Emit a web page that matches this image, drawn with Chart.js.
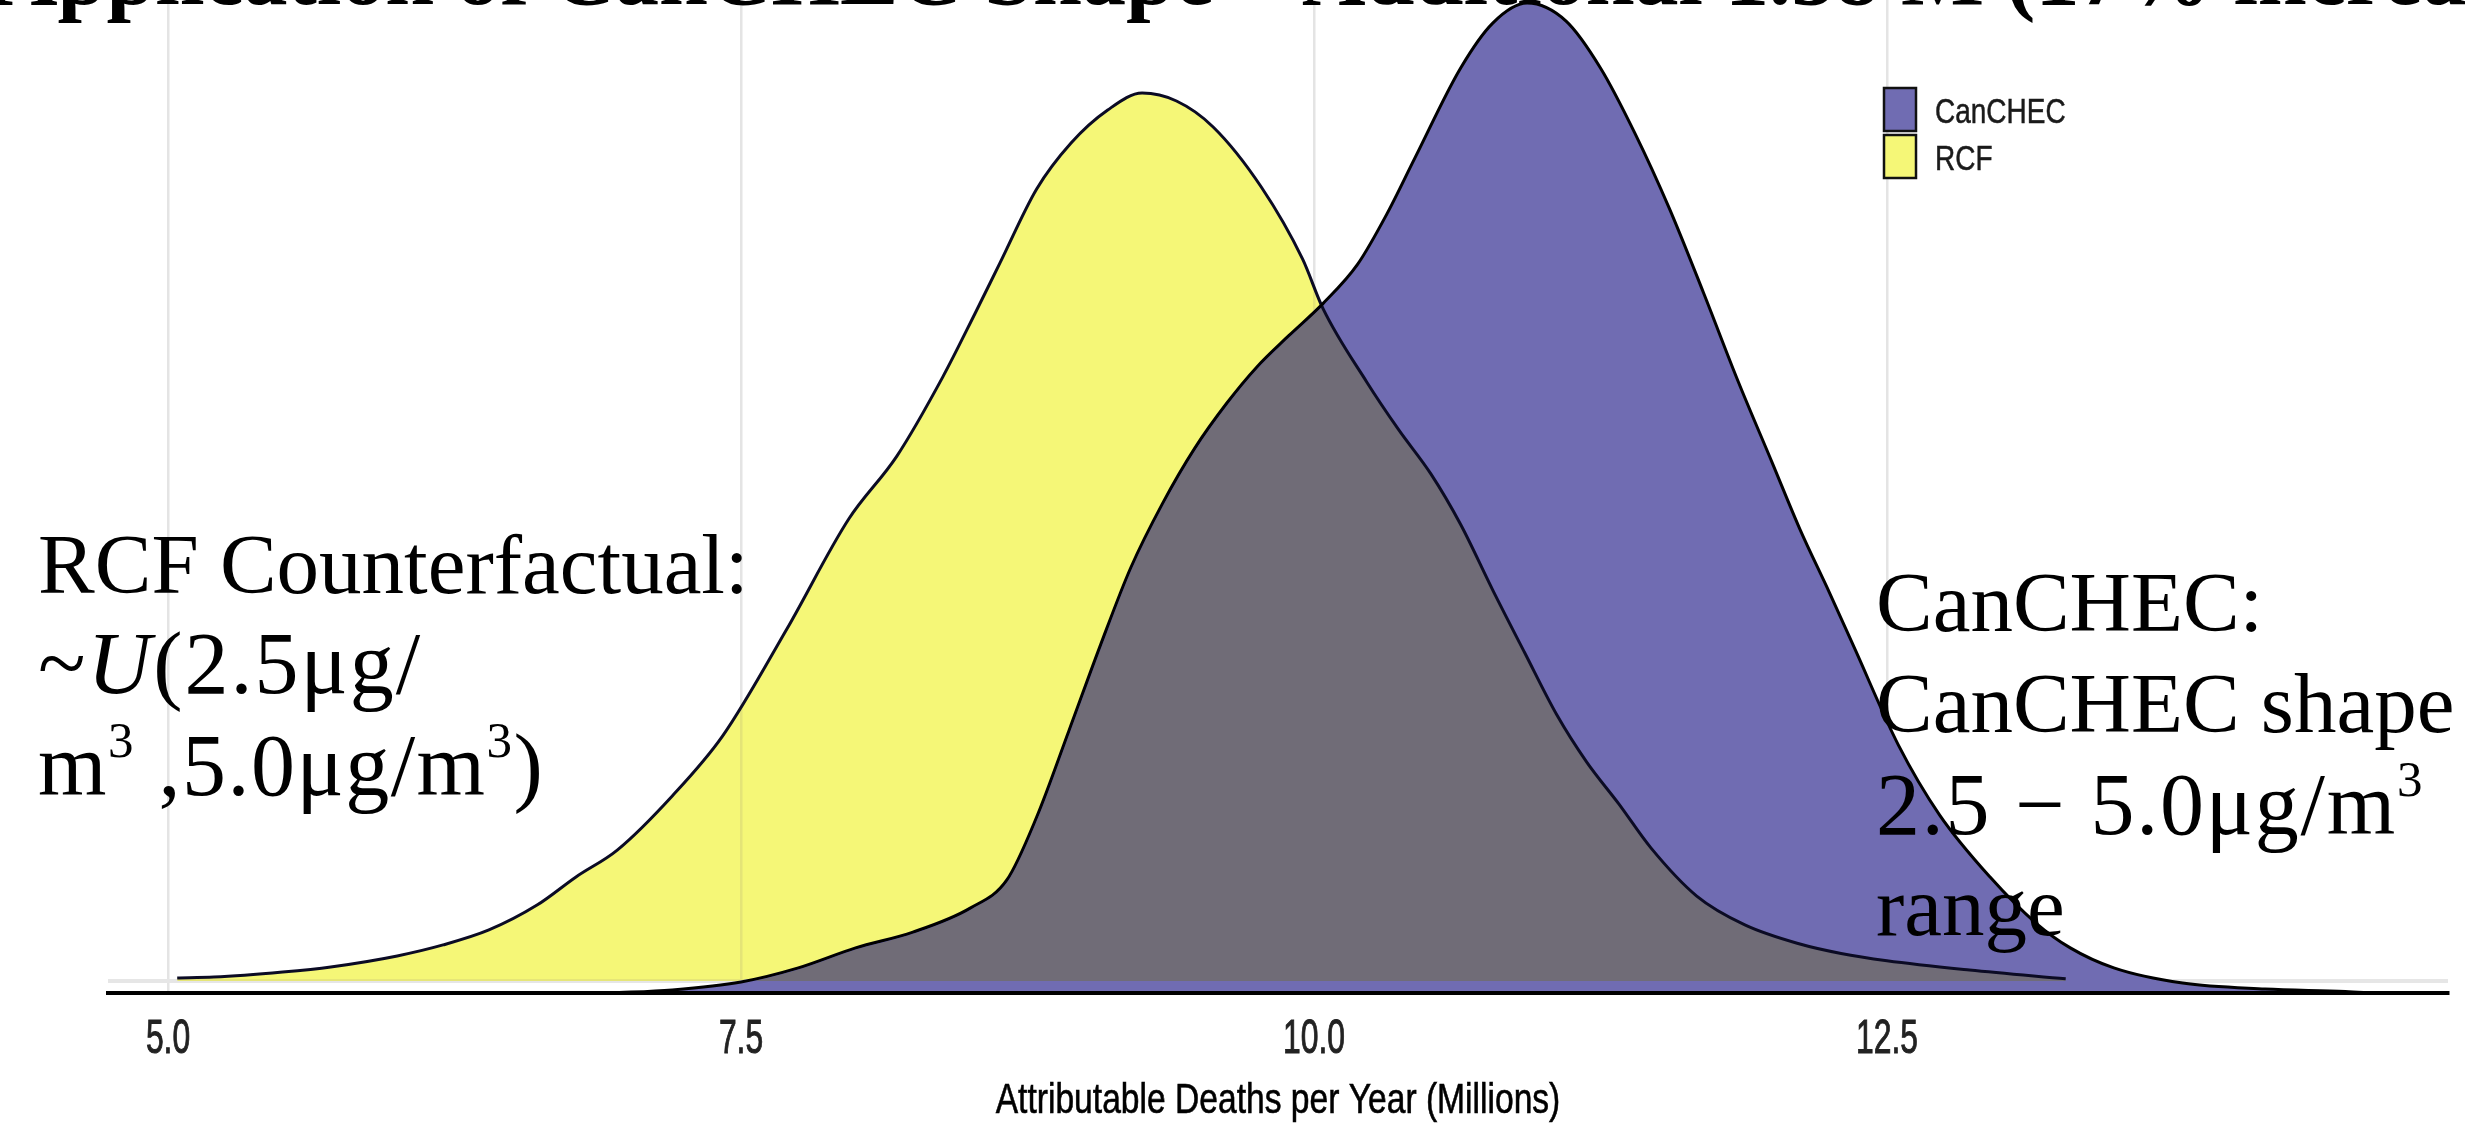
<!DOCTYPE html>
<html>
<head>
<meta charset="utf-8">
<title>Attributable Deaths per Year</title>
<script src="https://cdn.jsdelivr.net/npm/chart.js@4/dist/chart.umd.min.js"></script>
<style>
  html, body { margin: 0; padding: 0; background: #ffffff; overflow: hidden; }
  #wrap { position: relative; width: 2465px; height: 1124px; }
</style>
</head>
<body>
<div id="wrap"><canvas id="chart" width="2465" height="1124"></canvas></div>
<script>
// Tick positions and labels of the x axis (millions of deaths per year)
const xTicks = [5.0, 7.5, 10.0, 12.5];
const xTickLabels = ['5.0', '7.5', '10.0', '12.5'];

// Series names, in legend order
const seriesLabels = ['CanCHEC', 'RCF'];

// CanCHEC shape: density of attributable deaths
const canchecX = [6.93, 7.2, 7.5, 7.75, 8.0, 8.25, 8.5, 8.66, 8.79, 8.93, 9.07, 9.2, 9.34, 9.48, 9.62, 9.75, 9.89, 10.04, 10.19, 10.32, 10.44, 10.64, 10.78, 10.93, 11.1, 11.25, 11.4, 11.55, 11.7, 11.85, 12.0, 12.12, 12.25, 12.36, 12.55, 12.73, 12.95, 13.15, 13.3, 13.49, 13.79, 14.15, 14.5, 14.62];
const canchecDensity = [0, 0.0014, 0.005, 0.0114, 0.0205, 0.0277, 0.0386, 0.0514, 0.08, 0.119, 0.1586, 0.1932, 0.2227, 0.2477, 0.2682, 0.2845, 0.2988, 0.3135, 0.3312, 0.3545, 0.3795, 0.4205, 0.4409, 0.45, 0.4418, 0.4205, 0.3909, 0.3568, 0.3182, 0.2782, 0.2409, 0.2109, 0.1818, 0.1564, 0.1127, 0.0809, 0.0527, 0.0318, 0.0205, 0.0114, 0.0045, 0.0018, 0.0007, 0];

// RCF counterfactual: density of attributable deaths
const rcfX = [5.04, 5.2, 5.5, 5.71, 6.0, 6.2, 6.4, 6.61, 6.78, 6.96, 7.2, 7.42, 7.7, 7.97, 8.18, 8.38, 8.52, 8.63, 8.79, 8.94, 9.1, 9.25, 9.4, 9.56, 9.77, 9.95, 10.04, 10.23, 10.37, 10.51, 10.64, 10.78, 10.92, 11.06, 11.19, 11.33, 11.47, 11.67, 11.88, 12.12, 12.3, 12.5, 12.86, 13.28];
const rcfDensity = [0.0014, 0.0018, 0.0041, 0.0064, 0.0114, 0.0164, 0.0232, 0.0345, 0.0473, 0.0595, 0.0841, 0.1114, 0.16, 0.21, 0.2386, 0.2745, 0.3032, 0.3264, 0.36, 0.3809, 0.3959, 0.4036, 0.4, 0.3882, 0.3609, 0.3282, 0.3055, 0.2723, 0.2505, 0.2305, 0.2075, 0.1777, 0.1491, 0.1209, 0.0995, 0.0805, 0.0605, 0.0386, 0.0255, 0.0168, 0.0125, 0.0092, 0.005, 0.001];

const seriesColors = ['#706cb2', '#f5f777'];

const titleText = 'Application of CanCHEC Shape \u2013 Additional 1.58 M (17% increase)';
const axisTitle = 'Attributable Deaths per Year (Millions)';

const SANS = '"Liberation Sans", Arial, sans-serif';
const SERIF = '"Liberation Serif", "Times New Roman", serif';

// Annotation blocks: each line is a list of runs (plain, italic or superscript).
// "spread" adds space between the characters of a run.
const leftNote = [
  [{ t: 'RCF Counterfactual:' }],
  [{ t: '~', math: true, spread: 2 }, { t: 'U', italic: true, math: true, spread: 2 }, { t: '(2.5\u03bcg/', math: true, spread: 2 }],
  [{ t: 'm', math: true, spread: 1.5 }, { t: '3', sup: true, math: true, spread: 1.5 }, { t: ' ,5.0\u03bcg/m', math: true, spread: 1.5 }, { t: '3', sup: true, math: true, spread: 1.5 }, { t: ')', math: true }]
];
const rightNote = [
  [{ t: 'CanCHEC:' }],
  [{ t: 'CanCHEC shape' }],
  [{ t: '2.5 \u2212 5.0\u03bcg/m', math: true, spread: 1.8 }, { t: '3', sup: true, math: true }],
  [{ t: 'range' }]
];

function drawRuns(c, runs, x, y, size) {
  let cx = x;
  runs.forEach(r => {
    const base = r.math ? size + 3 : size;
    const fs = r.sup ? Math.round(base * 0.58) : base;
    c.font = (r.italic ? 'italic ' : '') + fs + 'px ' + SERIF;
    const ty = r.sup ? y - base * 0.43 : y;
    if (r.spread) {
      for (const ch of r.t) {
        c.fillText(ch, cx, ty);
        cx += c.measureText(ch).width + r.spread;
      }
    } else {
      c.fillText(r.t, cx, ty);
      cx += c.measureText(r.t).width;
    }
  });
}

// Sans-serif label, squeezed horizontally, with an optional light outline
function drawSans(c, text, x, y, size, squeeze, align, color, weight) {
  c.save();
  c.translate(x, y);
  c.scale(squeeze, 1);
  c.font = size + 'px ' + SANS;
  c.fillStyle = color;
  c.textAlign = align;
  c.textBaseline = 'alphabetic';
  c.fillText(text, 0, 0);
  if (weight) {
    c.strokeStyle = color;
    c.lineWidth = weight;
    c.strokeText(text, 0, 0);
  }
  c.restore();
}

// The RCF layer is composited over the CanCHEC layer with a darken blend,
// so the overlapping area turns grey while the rest keeps its own colour.
const overlayBlend = {
  id: 'overlayBlend',
  afterDatasetDraw(chart, args) {
    const ds = chart.data.datasets[args.index];
    if (ds.startsBlend) {
      chart.ctx.save();
      chart.ctx.globalCompositeOperation = 'darken';
    }
    if (ds.endsBlend) {
      chart.ctx.restore();
    }
  }
};

const notes = {
  id: 'notes',
  afterDraw(chart) {
    const c = chart.ctx;
    const xs = chart.scales.x;
    const area = chart.chartArea;
    c.save();
    c.fillStyle = '#000';
    c.textBaseline = 'alphabetic';
    c.textAlign = 'left';

    // Title, running off the top edge
    c.font = 'bold 88px ' + SERIF;
    c.fillText(titleText, -6, 4);

    // x tick labels and axis title
    xs.ticks.forEach((tk, i) => {
      drawSans(c, xTickLabels[i], xs.getPixelForValue(tk.value), 1053, 49, 0.65, 'center', '#222222', 1);
    });
    drawSans(c, axisTitle, (area.left + area.right) / 2, 1113, 42, 0.8, 'center', '#000', 0.6);

    // Annotations
    c.fillStyle = '#000';
    const leftBase = [593, 693, 795];
    leftNote.forEach((runs, i) => drawRuns(c, runs, 38, leftBase[i], 85));
    const rightBase = [631, 732, 834, 935];
    rightNote.forEach((runs, i) => drawRuns(c, runs, 1876, rightBase[i], 85));

    // Legend
    const ds = chart.data.datasets;
    const boxX = 1884, boxW = 32, boxH = 43;
    const boxY = [88, 135];
    const textBase = [123, 170];
    ds.forEach((d, i) => {
      c.fillStyle = d.backgroundColor;
      c.fillRect(boxX, boxY[i], boxW, boxH);
      c.lineWidth = 2.5;
      c.strokeStyle = '#111';
      c.strokeRect(boxX, boxY[i], boxW, boxH);
      drawSans(c, d.label, 1935, textBase[i], 35, 0.8, 'left', '#1a1a1a', 0.5);
    });
    c.restore();
  }
};

const toPoints = (xs, ys) => xs.map((x, i) => ({ x: x, y: ys[i] }));

new Chart(document.getElementById('chart'), {
  type: 'line',
  data: {
    datasets: [
      {
        label: seriesLabels[0],
        data: toPoints(canchecX, canchecDensity),
        yAxisID: 'y',
        order: 1,
        fill: 'origin',
        backgroundColor: seriesColors[0],
        borderColor: '#000000',
        borderWidth: 3,
        pointRadius: 0,
        cubicInterpolationMode: 'monotone',
        startsBlend: true
      },
      {
        label: seriesLabels[1],
        data: toPoints(rcfX, rcfDensity),
        yAxisID: 'y2',
        order: 0,
        fill: 'origin',
        backgroundColor: seriesColors[1],
        borderColor: '#0b0b24',
        borderWidth: 3,
        pointRadius: 0,
        cubicInterpolationMode: 'monotone',
        endsBlend: true
      }
    ]
  },
  options: {
    responsive: false,
    animation: false,
    devicePixelRatio: 1,
    layout: { padding: { left: 108, right: 17, top: 0, bottom: 0 } },
    plugins: {
      legend: { display: false },
      tooltip: { enabled: false },
      title: { display: false }
    },
    scales: {
      x: {
        type: 'linear',
        min: 4.738,
        max: 14.948,
        afterBuildTicks: s => { s.ticks = xTicks.map(v => ({ value: v })); },
        afterFit: s => { s.height = 131; },
        grid: { color: '#e4e4e4', lineWidth: 2.5, drawTicks: false },
        border: { display: true, color: '#000000', width: 4, z: 1 },
        ticks: { display: false },
        title: { display: false }
      },
      y: { display: false, min: 0, max: 0.4514 },
      y2: {
        display: true,
        position: 'left',
        min: -0.005455,
        max: 0.44591,
        afterBuildTicks: s => { s.ticks = [{ value: 0 }]; },
        afterFit: s => { s.width = 0; },
        ticks: { display: false },
        grid: { color: '#e6e6e6', lineWidth: 4, drawTicks: false },
        border: { display: false }
      }
    }
  },
  plugins: [overlayBlend, notes]
});
</script>
</body>
</html>
